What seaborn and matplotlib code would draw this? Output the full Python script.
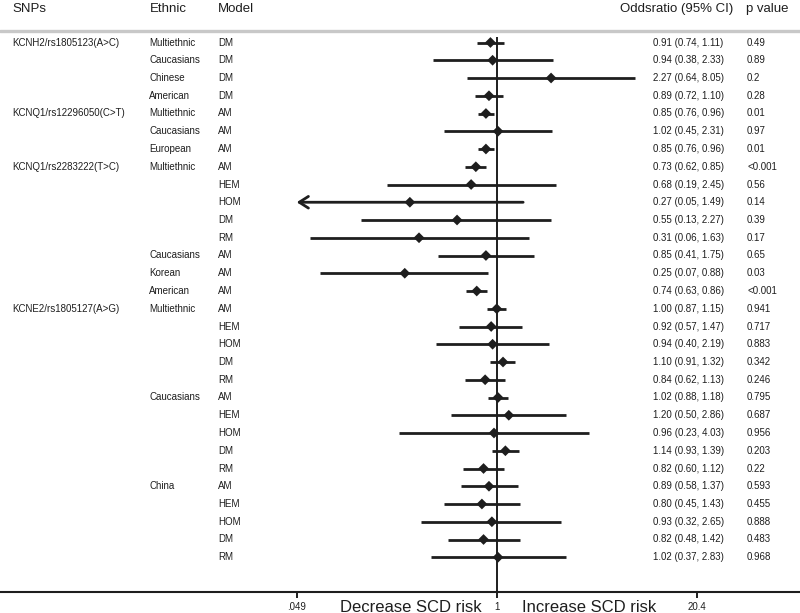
import numpy as np
import pandas as pd
import matplotlib
matplotlib.use("Agg")
import matplotlib.pyplot as plt
import matplotlib.transforms as mtransforms
from matplotlib.ticker import NullLocator
import seaborn as sns

# ---------------------------------------------------------------------------
# Data
# ---------------------------------------------------------------------------
snps = (["KCNH2/rs1805123(A>C)"] * 4
        + ["KCNQ1/rs12296050(C>T)"] * 3
        + ["KCNQ1/rs2283222(T>C)"] * 8
        + ["KCNE2/rs1805127(A>G)"] * 15)

ethnic = (["Multiethnic", "Caucasians", "Chinese", "American"]
          + ["Multiethnic", "Caucasians", "European"]
          + ["Multiethnic"] * 5 + ["Caucasians", "Korean", "American"]
          + ["Multiethnic"] * 5 + ["Caucasians"] * 5 + ["China"] * 5)

model = (["DM"] * 4
         + ["AM"] * 3
         + ["AM", "HEM", "HOM", "DM", "RM", "AM", "AM", "AM"]
         + ["AM", "HEM", "HOM", "DM", "RM"] * 3)

odds = [0.91, 0.94, 2.27, 0.89,
        0.85, 1.02, 0.85,
        0.73, 0.68, 0.27, 0.55, 0.31, 0.85, 0.25, 0.74,
        1.00, 0.92, 0.94, 1.10, 0.84,
        1.02, 1.20, 0.96, 1.14, 0.82,
        0.89, 0.80, 0.93, 0.82, 1.02]

ci_low = [0.74, 0.38, 0.64, 0.72,
          0.76, 0.45, 0.76,
          0.62, 0.19, 0.05, 0.13, 0.06, 0.41, 0.07, 0.63,
          0.87, 0.57, 0.40, 0.91, 0.62,
          0.88, 0.50, 0.23, 0.93, 0.60,
          0.58, 0.45, 0.32, 0.48, 0.37]

ci_high = [1.11, 2.33, 8.05, 1.10,
           0.96, 2.31, 0.96,
           0.85, 2.45, 1.49, 2.27, 1.63, 1.75, 0.88, 0.86,
           1.15, 1.47, 2.19, 1.32, 1.13,
           1.18, 2.86, 4.03, 1.39, 1.12,
           1.37, 1.43, 2.65, 1.42, 2.83]

p_values = ["0.49", "0.89", "0.2", "0.28",
            "0.01", "0.97", "0.01",
            "<0.001", "0.56", "0.14", "0.39", "0.17", "0.65", "0.03", "<0.001",
            "0.941", "0.717", "0.883", "0.342", "0.246",
            "0.795", "0.687", "0.956", "0.203", "0.22",
            "0.593", "0.455", "0.888", "0.483", "0.968"]

x_ticks = [0.049, 1, 20.4]
x_tick_labels = [".049", "1", "20.4"]

df = pd.DataFrame({"snp": snps, "ethnic": ethnic, "model": model,
                   "or": odds, "lo": ci_low, "hi": ci_high, "p": p_values})
df["row"] = np.arange(len(df))

# ---------------------------------------------------------------------------
# Layout (pixel anchors of the 800x613 picture)
# ---------------------------------------------------------------------------
W, H = 800, 613
AXIS_Y = 592          # bottom rule
ROW0, ROW_STEP = 42.5, 17.75
X_ONE = 496.7         # pixel of OR = 1
K = 200 / np.log(20.4)  # pixels per ln unit

def row_of(py):
    return (py - ROW0) / ROW_STEP

ink = "#1e1e1e"

sns.set_theme(style="white")
plt.rcParams["font.family"] = ["Liberation Sans", "DejaVu Sans"]

fig = plt.figure(figsize=(W / 100, H / 100), dpi=100)
ax = fig.add_axes([0, (H - AXIS_Y) / H, 1, AXIS_Y / H])
ax.set_xscale("log")

# confidence intervals (arrow when the CI runs off the left edge)
x_floor = x_ticks[0]
for _, r in df.iterrows():
    if r["lo"] <= 0.05:
        ax.annotate("", xy=(x_floor, r["row"]), xytext=(r["hi"], r["row"]),
                    arrowprops=dict(arrowstyle="->,head_length=0.55,head_width=0.35",
                                    lw=2, color=ink, shrinkA=0, shrinkB=0))
    else:
        ax.hlines(r["row"], r["lo"], r["hi"], color=ink, lw=2)

# point estimates
sns.scatterplot(data=df, x="or", y="row", marker="D", s=30, color=ink,
                edgecolor="none", ax=ax, zorder=3, legend=False)

# line of no effect and header separator
ax.vlines(1, row_of(37), row_of(AXIS_Y), color=ink, lw=1.4)
ax.axhline(row_of(31), color="#c8c8c8", lw=2.4)

ax.set_xlim(np.exp(-X_ONE / K), np.exp((W - X_ONE) / K))
ax.set_ylim(row_of(AXIS_Y), row_of(0))

for side in ["top", "left", "right"]:
    ax.spines[side].set_visible(False)
ax.spines["bottom"].set_color(ink)
ax.spines["bottom"].set_linewidth(1.5)
ax.xaxis.set_minor_locator(NullLocator())
ax.set_xticks(x_ticks)
ax.set_xticklabels(x_tick_labels)
ax.tick_params(axis="x", bottom=True, length=4.3, width=1.4, color=ink,
               labelsize=7, labelcolor=ink, pad=3)
ax.set_yticks([])
ax.set_xlabel("")
ax.set_ylabel("")

# table columns
trans = mtransforms.blended_transform_factory(ax.transAxes, ax.transData)
prev_snp, prev_eth = None, None
for _, r in df.iterrows():
    y = r["row"]
    if r["snp"] != prev_snp:
        ax.text(12 / W, y, r["snp"], transform=trans, fontsize=7, va="center", color=ink)
    if r["snp"] != prev_snp or r["ethnic"] != prev_eth:
        ax.text(149 / W, y, r["ethnic"], transform=trans, fontsize=7, va="center", color=ink)
    prev_snp, prev_eth = r["snp"], r["ethnic"]
    ax.text(218 / W, y, r["model"], transform=trans, fontsize=7, va="center", color=ink)
    ax.text(653 / W, y, f"{r['or']:.2f} ({r['lo']:.2f}, {r['hi']:.2f})",
            transform=trans, fontsize=7, va="center", color=ink)
    ax.text(747 / W, y, r["p"], transform=trans, fontsize=7, va="center", color=ink)

# headers
for label, px in [("SNPs", 12), ("Ethnic", 150), ("Model", 218),
                  ("Oddsratio (95% CI)", 620), ("p value", 746)]:
    fig.text(px / W, 1 - 9 / H, label, fontsize=9.5, va="center", color=ink)

fig.text(411 / W, 1 - 607 / H, "Decrease SCD risk", ha="center", va="center",
         fontsize=12, color=ink)
fig.text(589.5 / W, 1 - 607 / H, "Increase SCD risk", ha="center", va="center",
         fontsize=12, color=ink)

fig.savefig("out.png", dpi=100)
plt.close(fig)
